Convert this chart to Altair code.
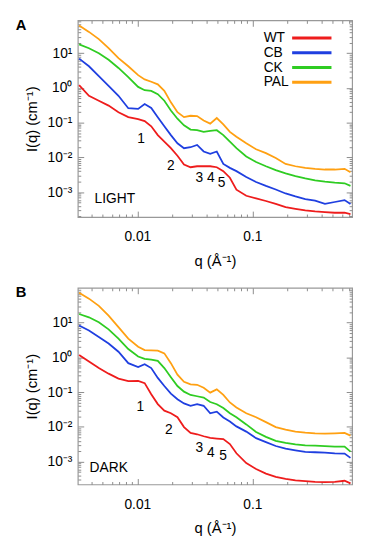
import altair as alt
import pandas as pd

FONT = "Liberation Sans, Arial, Helvetica, sans-serif"

SERIES = ["WT", "CB", "CK", "PAL"]
COLORS = ["#ee1c1c", "#1f3fe0", "#2fcc22", "#ffa012"]

Q = [0.00312, 0.0038, 0.00463, 0.00563, 0.00686, 0.00835, 0.01017, 0.01159,
     0.01322, 0.01507, 0.01718, 0.01959, 0.02234, 0.02547, 0.02904, 0.03311,
     0.03775, 0.04304, 0.04908, 0.05596, 0.0638, 0.07274, 0.08857, 0.1078,
     0.1313, 0.1598, 0.1946, 0.2369, 0.2885, 0.3513, 0.4277, 0.5206, 0.6339, 0.7132]

# Panel A (LIGHT)
A_WT = [1.2, 0.594, 0.428, 0.31, 0.2, 0.144, 0.127, 0.111, 0.0787, 0.0438, 0.0284,
        0.0184, 0.01114, 0.0062, 0.00521, 0.00556, 0.00556, 0.00556, 0.00521, 0.00402,
        0.0026, 0.00118, 0.000787, 0.000662, 0.000556, 0.000457, 0.000368, 0.00033,
        0.000296, 0.000278, 0.000266, 0.000255, 0.000255, 0.000233]
A_CB = [7.0, 4.2, 2.19, 1.14, 0.594, 0.26, 0.25, 0.345, 0.266, 0.144, 0.0787,
        0.0438, 0.0255, 0.0184, 0.0196, 0.0228, 0.0148, 0.0127, 0.0148, 0.00647,
        0.00499, 0.00402, 0.00272, 0.00196, 0.00151, 0.00119, 0.000916, 0.000753,
        0.000633, 0.000568, 0.000457, 0.00052, 0.00059, 0.000457]
A_CK = [18, 13.9, 10, 6.47, 3.76, 2.05, 1.07, 0.859, 0.822, 0.662, 0.428, 0.223,
        0.13, 0.0841, 0.0634, 0.0607, 0.0544, 0.0581, 0.0607, 0.0438, 0.0284, 0.0184,
        0.01067, 0.00738, 0.00556, 0.00429, 0.00345, 0.0029, 0.00249, 0.00219, 0.002,
        0.00188, 0.0018, 0.00151]
A_PAL = [63, 41, 25.4, 13.9, 7.2, 4.2, 2.33, 1.76, 1.51, 1.27, 0.822, 0.385, 0.2,
         0.144, 0.158, 0.155, 0.116, 0.0937, 0.136, 0.0897, 0.0544, 0.0393, 0.0255,
         0.0172, 0.01327, 0.00957, 0.00648, 0.00556, 0.00499, 0.00468, 0.00448,
         0.00448, 0.00468, 0.00376]

# Panel B (DARK)
B_WT = [1.18, 0.762, 0.493, 0.341, 0.246, 0.207, 0.211, 0.182, 0.0869, 0.0453,
        0.0293, 0.0247, 0.019, 0.00989, 0.00669, 0.00613, 0.00538, 0.00483, 0.00462,
        0.00443, 0.0032, 0.00174, 0.000908, 0.000614, 0.000453, 0.000364, 0.00032,
        0.000287, 0.000275, 0.000263, 0.000257, 0.000263, 0.000281, 0.000236]
B_CB = [8.3, 6.0, 3.89, 2.52, 1.46, 0.684, 0.527, 0.641, 0.493, 0.257, 0.15, 0.0908,
        0.0627, 0.0473, 0.0406, 0.0453, 0.0405, 0.0245, 0.0275, 0.0186, 0.0143,
        0.01033, 0.0073, 0.00473, 0.00364, 0.00281, 0.00236, 0.00211, 0.0019, 0.00186,
        0.00182, 0.00174, 0.0017, 0.00128]
B_CK = [17.8, 14.3, 10.3, 6.41, 3.48, 1.74, 1.06, 0.908, 0.869, 0.797, 0.493, 0.269,
        0.15, 0.1033, 0.0832, 0.0762, 0.0698, 0.052, 0.045, 0.0349, 0.0247, 0.019,
        0.01178, 0.00714, 0.00515, 0.00397, 0.00349, 0.00313, 0.00293, 0.00287,
        0.00281, 0.00269, 0.00269, 0.00194]
B_PAL = [73, 49.3, 30.6, 16, 7.47, 3.48, 2.03, 1.63, 1.59, 1.56, 1.31, 0.684, 0.32,
         0.198, 0.167, 0.163, 0.134, 0.0968, 0.12, 0.0832, 0.0505, 0.0364, 0.0247,
         0.019, 0.0137, 0.00989, 0.00832, 0.0073, 0.00684, 0.00655, 0.00641, 0.00655,
         0.00669, 0.00562]

# peak annotations
PEAK_LABELS = ["1", "2", "3", "4", "5"]
A_PEAK_Q = [0.01078, 0.0196, 0.0347, 0.0436, 0.0541]
A_PEAK_I = [0.033, 0.00556, 0.0026, 0.0026, 0.00188]
B_PEAK_Q = [0.01065, 0.01884, 0.0347, 0.0436, 0.0556]
B_PEAK_I = [0.0364, 0.00832, 0.00252, 0.00182, 0.0014]

A_TAG = ["LIGHT", 0.00425, 0.00063]
B_TAG = ["DARK", 0.00385, 0.00065]

X_DOMAIN = [0.00304, 0.737]
A_Y_DOMAIN = [1.92e-4, 88]
B_Y_DOMAIN = [2.2e-4, 101]

X_MAJOR = [0.01, 0.1]
X_MINOR = [0.004, 0.005, 0.006, 0.007, 0.008, 0.009, 0.02, 0.03, 0.04, 0.05,
           0.06, 0.07, 0.08, 0.09, 0.2, 0.3, 0.4, 0.5, 0.6, 0.7]
Y_MAJOR = [1e-3, 1e-2, 1e-1, 1, 10]
Y_MINOR = [2e-4, 3e-4, 4e-4, 5e-4, 6e-4, 7e-4, 8e-4, 9e-4,
           2e-3, 3e-3, 4e-3, 5e-3, 6e-3, 7e-3, 8e-3, 9e-3,
           2e-2, 3e-2, 4e-2, 5e-2, 6e-2, 7e-2, 8e-2, 9e-2,
           0.2, 0.3, 0.4, 0.5, 0.6, 0.7, 0.8, 0.9,
           2, 3, 4, 5, 6, 7, 8, 9, 20, 30, 40, 50, 60, 70, 80, 90]

Y_LABEL_EXPR = ("datum.value > 5 ? '10¹' : datum.value > 0.5 ? '10⁰' : "
                "datum.value > 0.05 ? '10⁻¹' : datum.value > 0.005 ? '10⁻²' : '10⁻³'")

TICK_COLOR = "#8c8c8c"


def axis(orient, values, size, labels=False, **kw):
    # ticks drawn inward (into the plot) like the original figure
    return alt.Axis(orient=orient, values=values, tickSize={"expr": str(-size)},
                    domain=False, grid=False, labels=labels, tickColor=TICK_COLOR,
                    tickWidth=1, **kw)


def panel(series_vals, peak_q, peak_i, tag, y_domain, letter, show_legend):
    rows = []
    for name, vals in zip(SERIES, series_vals):
        for q, v in zip(Q, vals):
            rows.append({"q": q, "I": v, "series": name})
    df = pd.DataFrame(rows)
    peaks = pd.DataFrame({"q": peak_q, "I": peak_i, "label": PEAK_LABELS})
    tagdf = pd.DataFrame({"q": [tag[1]], "I": [tag[2]], "label": [tag[0]]})

    xs = alt.Scale(type="log", domain=X_DOMAIN, nice=False)
    ys = alt.Scale(type="log", domain=y_domain, nice=False)

    if show_legend:
        legend = alt.Legend(orient="none", legendX=171, legendY=11, title=None,
                            symbolType="M-4,0H4", symbolSize=100, symbolStrokeWidth=3,
                            symbolOffset=60, labelOffset={"expr": "-56"},
                            labelAlign="left", padding=0,
                            labelFontSize=14, labelFont=FONT, labelColor="black",
                            rowPadding=1)
    else:
        legend = None

    lines = alt.Chart(df).mark_line(strokeWidth=1.8, clip=True).encode(
        x=alt.X("q:Q", scale=xs,
                axis=axis("bottom", X_MAJOR, 6, labels=True, format="~g",
                          labelFontSize=14, labelPadding=19, labelFlush=False,
                          title="q (Å⁻¹)", titleFontSize=15, titlePadding=10,
                          titleFontWeight="normal")),
        y=alt.Y("I:Q", scale=ys,
                axis=axis("left", Y_MAJOR, 6, labels=True, labelExpr=Y_LABEL_EXPR,
                          labelFontSize=14, labelPadding=12, labelFlush=False,
                          title="I(q) (cm⁻¹)", titleFontSize=15, titlePadding=8,
                          titleFontWeight="normal")),
        color=alt.Color("series:N", scale=alt.Scale(domain=SERIES, range=COLORS),
                        sort=SERIES, legend=legend),
    )

    first = alt.Chart(peaks.iloc[:2]).mark_text(fontSize=14, font=FONT, color="black").encode(
        x=alt.X("q:Q", scale=xs, axis=axis("bottom", X_MINOR, 3, title=None)),
        y=alt.Y("I:Q", scale=ys, axis=axis("left", Y_MINOR, 3, title=None)),
        text="label:N",
    )
    rest = alt.Chart(peaks.iloc[2:]).mark_text(fontSize=14, font=FONT, color="black").encode(
        x=alt.X("q:Q", scale=xs, axis=axis("top", X_MAJOR, 6, title=None)),
        y=alt.Y("I:Q", scale=ys, axis=axis("right", Y_MAJOR, 6, title=None)),
        text="label:N",
    )
    tagl = alt.Chart(tagdf).mark_text(fontSize=14, font=FONT, color="black",
                                      align="left").encode(
        x=alt.X("q:Q", scale=xs, axis=axis("top", X_MINOR, 3, title=None)),
        y=alt.Y("I:Q", scale=ys, axis=axis("right", Y_MINOR, 3, title=None)),
        text="label:N",
    )

    return alt.layer(lines, first, rest, tagl).resolve_axis(
        x="independent", y="independent"
    ).properties(
        width=279, height=200,
        title=alt.TitleParams(letter, anchor="start", frame="group", dx=-63, offset=-13,
                              baseline="top", fontSize=15, fontWeight="bold",
                              font=FONT, color="black"),
    )


pa = panel([A_WT, A_CB, A_CK, A_PAL], A_PEAK_Q, A_PEAK_I, A_TAG, A_Y_DOMAIN, "A", True)
pb = panel([B_WT, B_CB, B_CK, B_PAL], B_PEAK_Q, B_PEAK_I, B_TAG, B_Y_DOMAIN, "B", False)

chart = alt.vconcat(pa, pb, spacing=72, bounds="flush").resolve_scale(
    color="independent"
).properties(
    padding={"left": 7, "top": 4, "right": 5, "bottom": 5}
).configure_view(
    stroke="#999999", strokeWidth=1.2
).configure_axis(
    labelFont=FONT, titleFont=FONT, labelColor="black", titleColor="black"
)

chart.save("out.html", embed_options={"renderer": "svg", "actions": False})
